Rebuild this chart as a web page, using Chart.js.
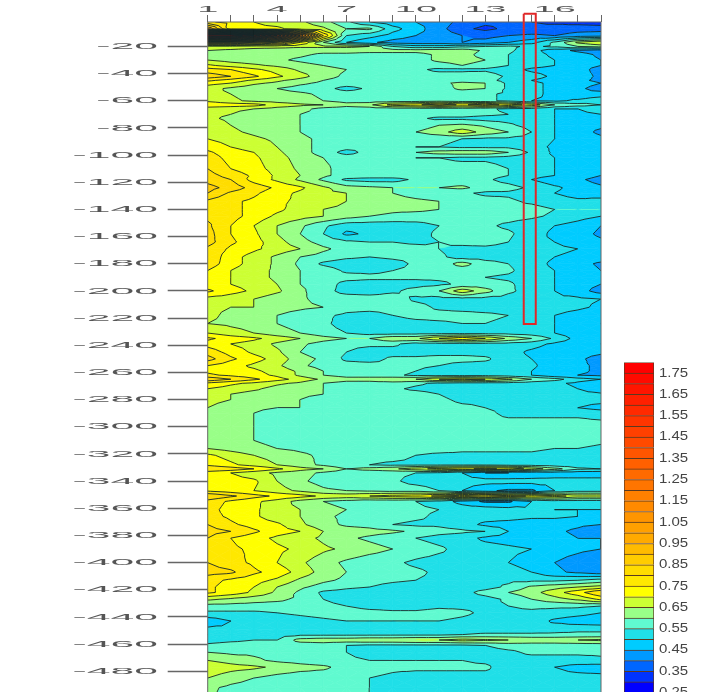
<!DOCTYPE html>
<html>
<head>
<meta charset="utf-8">
<title>Velocity section</title>
<script src="https://cdn.jsdelivr.net/npm/chart.js@4"></script>
<style>
html, body { margin:0; padding:0; background:#fff; width:721px; height:692px; overflow:hidden; }
#section { position:absolute; left:0; top:0; }
#colorbar { position:absolute; left:610px; top:350px; }
</style>
</head>
<body>
<canvas id="section" width="721" height="730"></canvas>
<canvas id="colorbar" width="111" height="360"></canvas>
<script>
// Trace numbers across the section, depth of each row, and the readings (hundredths)
var traces = [1,2,3,4,5,6,7,8,9,10,11,12,13,14,15,16,17,18];
var traceLabels = [1,4,7,10,13,16];
var depthLabels = [-20,-40,-60,-80,-100,-120,-140,-160,-180,-200,-220,-240,-260,-280,-300,-320,-340,-360,-380,-400,-420,-440,-460,-480,-500];
var depths = [2,7,12,17,20,23,26,30,34,37,42,45,47,51,55,60,63,66,70,73,78,83,88,94,98,102,110,115,118,124,128,134,140,145,152,158,164,169,175,180,185,190,195,200,206,212,218,224,231,235,239,245,250,255,259,262,265,268,272,276,280,286,290,300,310,316,321,328,331,334,340,347,351,355,361,366,372,377,382,390,400,407,413,418,422,427,432,437,443,449,453,457,461,466,472,477,485,492,510];
var readings = [
[76,73,70,68,66,62,56,50,47,45,43,38,36,36,35,34,33,32],
[95,72,71,71,68,66,60,61,52,47,42,36,34,36,36,37,38,38],
[180,180,170,150,120,80,55,52,48,45,43,40,38,40,41,40,42,43],
[100,100,95,90,75,60,50,46,43,42,42,40,42,45,48,56,66,70],
[68,68,67,67,66,66,66,65,55,52,52,54,55,56,54,56,60,62],
[65,64,63,62,62,62,62,62,62,62,63,63,59,56,52,47,44,42],
[63,62,62,62,61,59,59,58,58,58,61,62,58,55,52,49,47,44],
[65,63,62,61,59,57,57,57,57,58,61,62,60,55,52,50,47,45],
[71,68,66,64,62,60,58,57,57,57,58,60,58,55,52,50,47,45],
[77,75,71,68,64,62,60,58,57,56,54,54,54,52,49,48,47,43],
[83,80,76,71,67,62,59,58,58,57,57,57,58,54,52,49,47,44],
[76,73,69,66,63,60,58,58,57,57,57,58,57,53,50,48,46,44],
[72,70,66,64,61,59,58,58,57,58,59,61,60,54,51,49,47,45],
[67,64,62,60,58,57,53,56,57,57,58,61,60,54,51,49,46,43],
[66,65,63,62,61,59,58,58,58,57,57,57,56,54,52,48,46,47],
[69,66,64,63,62,60,58,57,57,57,58,57,56,54,50,49,51,54],
[74,73,72,68,66,65,62,64,72,74,78,74,78,73,68,60,57,55],
[67,66,65,63,62,58,57,57,57,57,57,57,56,54,53,50,50,52],
[66,65,63,61,60,58,57,57,57,57,57,57,56,55,53,50,49,50],
[66,64,62,61,60,57,57,57,57,56,54,54,53,53,52,50,47,48],
[68,65,63,61,60,57,56,56,56,57,60,61,59,56,53,50,47,46],
[67,66,64,62,60,58,57,56,58,60,63,68,63,60,55,50,47,44],
[70,68,66,64,61,59,57,56,57,56,56,55,54,54,53,50,48,46],
[73,70,68,65,61,59,57,56,56,55,55,54,54,54,52,49,48,47],
[76,72,70,66,62,58,53,57,58,60,62,63,63,60,54,49,48,46],
[78,73,71,67,63,60,58,58,57,55,55,54,54,53,52,50,48,46],
[80,75,72,68,64,61,58,58,57,57,57,57,57,55,52,50,47,46],
[82,78,74,69,65,61,58,58,58,58,58,58,57,55,52,50,48,45],
[83,80,73,69,64,59,54,53,53,56,57,57,56,53,50,47,46,43],
[87,83,78,74,71,66,62,61,60,60,60,61,58,57,54,51,48,46],
[85,79,76,72,69,66,65,63,60,58,57,56,54,54,52,50,48,47],
[79,76,74,71,69,67,65,64,62,61,60,58,57,56,54,52,51,52],
[78,76,74,71,68,65,64,62,61,61,60,58,58,57,57,55,55,55],
[79,77,73,69,67,65,62,60,59,58,58,57,57,57,56,54,52,50],
[81,75,70,65,61,56,52,52,52,53,55,57,56,54,52,50,48,45],
[82,75,71,65,60,55,49,51,52,53,56,57,57,56,52,49,47,44],
[82,76,72,67,62,58,56,55,55,54,55,57,58,55,51,50,48,46],
[79,74,71,68,65,61,58,57,57,57,55,53,53,52,51,51,50,49],
[79,72,68,64,60,58,56,55,56,56,56,53,53,53,52,50,49,48],
[78,72,68,64,59,54,52,52,53,56,57,62,57,55,52,49,47,44],
[75,70,67,64,60,58,54,54,55,56,57,57,57,56,52,50,48,45],
[72,70,67,64,60,58,57,56,56,56,56,56,55,54,52,50,48,47],
[72,70,68,65,60,58,53,53,53,53,54,56,57,56,52,50,47,45],
[76,72,69,66,61,57,53,52,54,57,60,68,62,56,53,50,47,43],
[68,67,65,62,61,58,58,58,58,54,53,53,53,53,52,51,51,50],
[66,65,65,62,61,60,57,57,57,57,54,53,53,53,52,52,51,49],
[66,64,62,60,58,56,54,53,55,57,57,57,56,55,53,50,48,46],
[65,64,63,60,58,56,53,52,52,53,54,55,55,54,52,50,47,45],
[70,67,65,62,60,57,55,53,53,53,53,53,53,53,52,50,47,46],
[76,73,71,68,65,62,60,60,64,64,70,74,70,64,60,54,48,46],
[73,70,68,64,61,58,56,56,56,53,53,53,53,53,52,49,47,45],
[78,73,69,66,60,57,55,53,53,53,53,53,53,52,49,47,47,46],
[82,76,72,68,62,59,54,53,56,56,57,57,56,52,50,47,46,43],
[75,72,69,66,61,58,57,57,56,56,55,53,53,52,51,47,46,44],
[74,72,71,68,64,60,58,58,57,55,53,53,53,52,50,47,46,44],
[76,74,72,69,64,60,58,58,56,54,53,53,53,52,50,46,45,44],
[84,80,76,72,68,64,62,62,64,65,70,72,70,66,60,57,52,50],
[74,71,69,66,64,60,58,58,58,56,54,53,53,53,52,51,49,47],
[70,68,66,63,61,60,57,57,56,54,53,53,53,53,52,52,50,46],
[68,65,63,62,61,60,57,57,57,57,55,53,53,53,52,52,52,51],
[67,65,62,61,60,58,57,57,57,57,56,54,54,53,52,52,52,52],
[65,62,61,60,60,58,58,58,58,58,57,56,55,54,53,52,50,48],
[63,61,60,58,58,58,58,58,58,58,58,57,56,54,54,54,54,53],
[62,61,60,58,57,57,57,57,57,57,57,57,57,57,57,57,57,57],
[62,61,60,59,58,57,57,57,57,57,57,57,57,57,57,57,57,56],
[65,63,61,60,59,58,57,57,57,57,57,56,56,56,56,55,55,54],
[71,68,65,63,61,59,57,57,57,55,54,54,54,54,54,53,53,52],
[74,71,68,65,62,59,56,55,54,54,54,54,54,53,53,52,52,52],
[80,78,75,71,67,65,60,62,64,68,72,74,76,74,68,62,56,55],
[72,70,67,64,62,59,57,56,56,55,54,50,45,45,46,47,47,47],
[74,72,71,65,61,58,56,56,56,53,52,52,52,52,52,52,52,52],
[74,72,70,67,64,61,60,59,58,58,55,50,46,44,44,50,53,53],
[85,81,77,74,72,69,68,70,72,73,76,78,80,78,74,72,68,68],
[78,74,71,68,63,60,58,56,56,55,53,48,44,44,50,52,52,52],
[77,73,71,67,65,62,60,58,57,56,55,53,53,52,51,50,50,50],
[77,74,71,67,65,61,59,58,57,56,54,53,52,52,51,51,50,49],
[80,76,73,71,66,62,59,58,55,54,54,52,49,48,47,47,46,45],
[82,80,76,72,70,65,63,62,61,59,57,56,55,50,48,46,44,41],
[80,75,72,69,67,64,61,59,57,55,53,52,49,48,47,47,45,45],
[78,76,74,71,69,66,64,62,60,58,56,53,52,51,50,47,46,45],
[80,77,74,70,66,62,59,57,56,54,53,53,52,50,48,45,43,41],
[82,81,76,73,68,63,60,58,57,56,54,54,53,52,50,46,44,42],
[77,74,72,69,64,61,59,57,56,55,54,54,54,54,54,54,55,57],
[76,73,70,65,61,58,56,55,53,52,52,52,53,56,61,63,65,67],
[76,73,69,64,59,54,53,52,52,52,52,53,57,60,63,68,73,80],
[66,64,62,61,59,55,52,52,52,52,52,52,53,56,60,63,66,71],
[58,58,58,58,58,57,55,53,53,53,54,54,54,55,56,56,56,55],
[54,54,54,55,56,57,58,57,56,56,57,56,54,54,54,53,52,50],
[47,50,52,52,53,54,55,55,55,55,55,54,53,53,53,49,47,46],
[51,51,51,51,52,52,52,52,52,52,52,52,52,52,52,53,54,54],
[52,52,52,53,54,54,54,54,54,54,54,55,56,56,56,56,56,56],
[53,54,55,55,62,63,63,64,64,65,65,67,66,65,64,64,65,66],
[56,57,57,57,57,57,55,54,54,54,54,54,55,57,57,57,57,57],
[60,59,59,58,58,57,55,53,53,53,53,53,53,54,56,56,56,56],
[65,63,61,59,58,57,56,55,55,55,55,55,54,53,53,53,53,54],
[69,67,66,64,62,61,58,57,56,56,56,56,56,52,52,50,48,47],
[65,62,60,58,57,57,56,55,54,53,53,53,53,53,53,52,52,52],
[61,59,58,57,57,56,56,55,54,53,53,53,53,53,53,53,53,53],
[60,58,57,57,56,56,55,55,54,53,53,53,53,53,53,53,53,53]
];

// Contour levels, one fill colour per band, and the labels on the colour bar
var levels = [0.25,0.30,0.35,0.40,0.45,0.50,0.55,0.60,0.65,0.70,0.75,0.80,0.85,0.90,0.95,1.00,1.05,1.10,1.15,1.20,1.25,1.30,1.35,1.40,1.45,1.50,1.55,1.60,1.65,1.70,1.75,1.80];
var bandColors = ['#0000ff','#0033ff','#0066ff','#0099ff','#00ccff','#20dfe8','#60fad0','#99ff88','#ccff33','#ffff00','#ffe800','#ffdc00','#ffcc00','#ffbb00','#ffaa00','#ffa000','#ff9500','#ff8a00','#ff8000','#ff7500','#ff6a00','#ff6000','#ff5500','#ff4a00','#ff4000','#ff3500','#ff2a00','#ff2000','#ff1500','#ff0a00','#ff0000'];
var colorbarLabels = [1.75,1.65,1.55,1.45,1.35,1.25,1.15,1.05,0.95,0.85,0.75,0.65,0.55,0.45,0.35,0.25];

// Marked trace window, in trace number and depth
var boxTraces = [14.66,15.18,15.18,14.66,14.66];
var boxDepths = [4,4,-224.3,-224.3,4];

// Sutherland-Hodgman clip of a [x,y,value] polygon against one level
function clipLevel(poly, level, keepAbove){
    var out = [];
    for(var i=0;i<poly.length;i++){
        var a = poly[i], b = poly[(i+1)%poly.length];
        var aIn = keepAbove ? a[2]>=level : a[2]<=level;
        var bIn = keepAbove ? b[2]>=level : b[2]<=level;
        if(aIn) out.push(a);
        if(aIn!==bIn){
            var t = (level-a[2])/(b[2]-a[2]);
            out.push([a[0]+t*(b[0]-a[0]), a[1]+t*(b[1]-a[1]), level]);
        }
    }
    return out;
}

function eachTriangle(chart, fn){
    var xs = chart.scales.x, ys = chart.scales.y;
    for(var r=0;r<depths.length-1;r++){
        var y0 = ys.getPixelForValue(-depths[r]), y1 = ys.getPixelForValue(-depths[r+1]);
        for(var c=0;c<traces.length-1;c++){
            var x0 = xs.getPixelForValue(traces[c]), x1 = xs.getPixelForValue(traces[c+1]);
            var a = [x0,y0,readings[r][c]/100], b = [x1,y0,readings[r][c+1]/100];
            var d = [x1,y1,readings[r+1][c+1]/100], e = [x0,y1,readings[r+1][c]/100];
            var m = [(x0+x1)/2,(y0+y1)/2,(a[2]+b[2]+d[2]+e[2])/4];
            fn([a,b,m]); fn([b,d,m]); fn([d,e,m]); fn([e,a,m]);
        }
    }
}

// Filled bands and their contour lines, placed through the chart scales
var contourPlugin = {
    id:'contours',
    beforeDatasetsDraw:function(chart){
        var ctx = chart.ctx, area = chart.chartArea;
        ctx.save();
        ctx.beginPath();
        ctx.rect(area.left,area.top,area.right-area.left,area.bottom-area.top);
        ctx.clip();
        ctx.lineWidth = 0.7;
        eachTriangle(chart,function(tri){
            var lo = Math.min(tri[0][2],tri[1][2],tri[2][2]), hi = Math.max(tri[0][2],tri[1][2],tri[2][2]);
            for(var k=0;k<bandColors.length;k++){
                var top = k===bandColors.length-1 ? 99 : levels[k+1];
                if(hi<levels[k] || lo>top) continue;
                var poly = clipLevel(clipLevel(tri,levels[k],true),top,false);
                if(poly.length<3) continue;
                ctx.fillStyle = ctx.strokeStyle = bandColors[k];
                ctx.beginPath();
                poly.forEach(function(p,i){ if(i) ctx.lineTo(p[0],p[1]); else ctx.moveTo(p[0],p[1]); });
                ctx.closePath();
                ctx.fill();
                ctx.stroke();
            }
        });
        ctx.strokeStyle = '#16282a';
        ctx.lineWidth = 0.9;
        ctx.beginPath();
        eachTriangle(chart,function(tri){
            levels.forEach(function(raw){
                var level = raw+0.0001, pts = [];
                for(var i=0;i<3;i++){
                    var a = tri[i], b = tri[(i+1)%3];
                    if((a[2]<level)!==(b[2]<level)){
                        var t = (level-a[2])/(b[2]-a[2]);
                        pts.push([a[0]+t*(b[0]-a[0]), a[1]+t*(b[1]-a[1])]);
                    }
                }
                if(pts.length===2){ ctx.moveTo(pts[0][0],pts[0][1]); ctx.lineTo(pts[1][0],pts[1][1]); }
            });
        });
        ctx.stroke();
        ctx.restore();
        ctx.strokeStyle = '#666';
        ctx.lineWidth = 1;
        ctx.strokeRect(area.left,area.top,area.right-area.left,area.bottom-area.top);
    }
};

// Tick text is wide and low on this plot, so it is drawn with a horizontal stretch
function wideText(ctx, text, x, y, font, stretch, align, color){
    ctx.save();
    ctx.translate(x,y);
    ctx.scale(stretch,1);
    ctx.font = font;
    ctx.fillStyle = color;
    ctx.textAlign = align;
    ctx.textBaseline = 'middle';
    ctx.fillText(text,0,0);
    ctx.restore();
}

var sectionLabels = {
    id:'sectionLabels',
    afterDraw:function(chart){
        var ctx = chart.ctx, font = '9.5px "Liberation Sans"';
        traceLabels.forEach(function(v){
            wideText(ctx,String(v),chart.scales.x.getPixelForValue(v),9,font,4,'center','#555');
        });
        depthLabels.forEach(function(v){
            wideText(ctx,String(v),158,chart.scales.y.getPixelForValue(v),font,4.5,'right','#555');
        });
    }
};

new Chart(document.getElementById('section'),{
    type:'scatter',
    plugins:[contourPlugin,sectionLabels],
    data:{datasets:[{
        data:boxTraces.map(function(x,i){ return {x:x,y:boxDepths[i]}; }),
        showLine:true,
        borderColor:'#e02828',
        borderWidth:2,
        pointRadius:0,
        tension:0,
        clip:false
    }]},
    options:{
        responsive:false,
        animation:false,
        events:[],
        layout:{padding:{right:120,bottom:18}},
        plugins:{legend:{display:false},tooltip:{enabled:false}},
        scales:{
            x:{
                type:'linear',position:'top',min:1,max:18,
                afterBuildTicks:function(s){ s.ticks = traces.map(function(v){ return {value:v}; }); },
                afterFit:function(s){ s.height = 22; },
                ticks:{display:false},
                border:{display:false},
                grid:{drawOnChartArea:false,tickLength:7,tickColor:'#666',tickWidth:1}
            },
            y:{
                type:'linear',min:-510,max:-2,
                afterBuildTicks:function(s){ s.ticks = depthLabels.map(function(v){ return {value:v}; }); },
                afterFit:function(s){ s.width = 207.7; },
                ticks:{display:false},
                border:{display:false},
                grid:{drawOnChartArea:false,tickLength:40,tickColor:'#666',tickWidth:1.3}
            }
        }
    }
});

// Colour bar: one floating bar per contour band
var colorbarText = {
    id:'colorbarText',
    afterDraw:function(chart){
        colorbarLabels.forEach(function(v){
            wideText(chart.ctx,v.toFixed(2),49,chart.scales.y.getPixelForValue(v),'12.5px "Liberation Sans"',1.2,'left','#444');
        });
    }
};

new Chart(document.getElementById('colorbar'),{
    type:'bar',
    plugins:[colorbarText],
    data:{
        labels:[''],
        datasets:bandColors.map(function(color,k){
            return {data:[[levels[k],levels[k+1]]],backgroundColor:color,borderColor:'#5a3a20',borderWidth:1,grouped:false,barPercentage:1,categoryPercentage:1};
        })
    },
    options:{
        responsive:false,
        animation:false,
        events:[],
        layout:{padding:{left:14,right:67,top:12.4,bottom:17.4}},
        plugins:{legend:{display:false},tooltip:{enabled:false}},
        scales:{
            x:{display:false},
            y:{display:false,min:0.25,max:1.8}
        }
    }
});
</script>
</body>
</html>
